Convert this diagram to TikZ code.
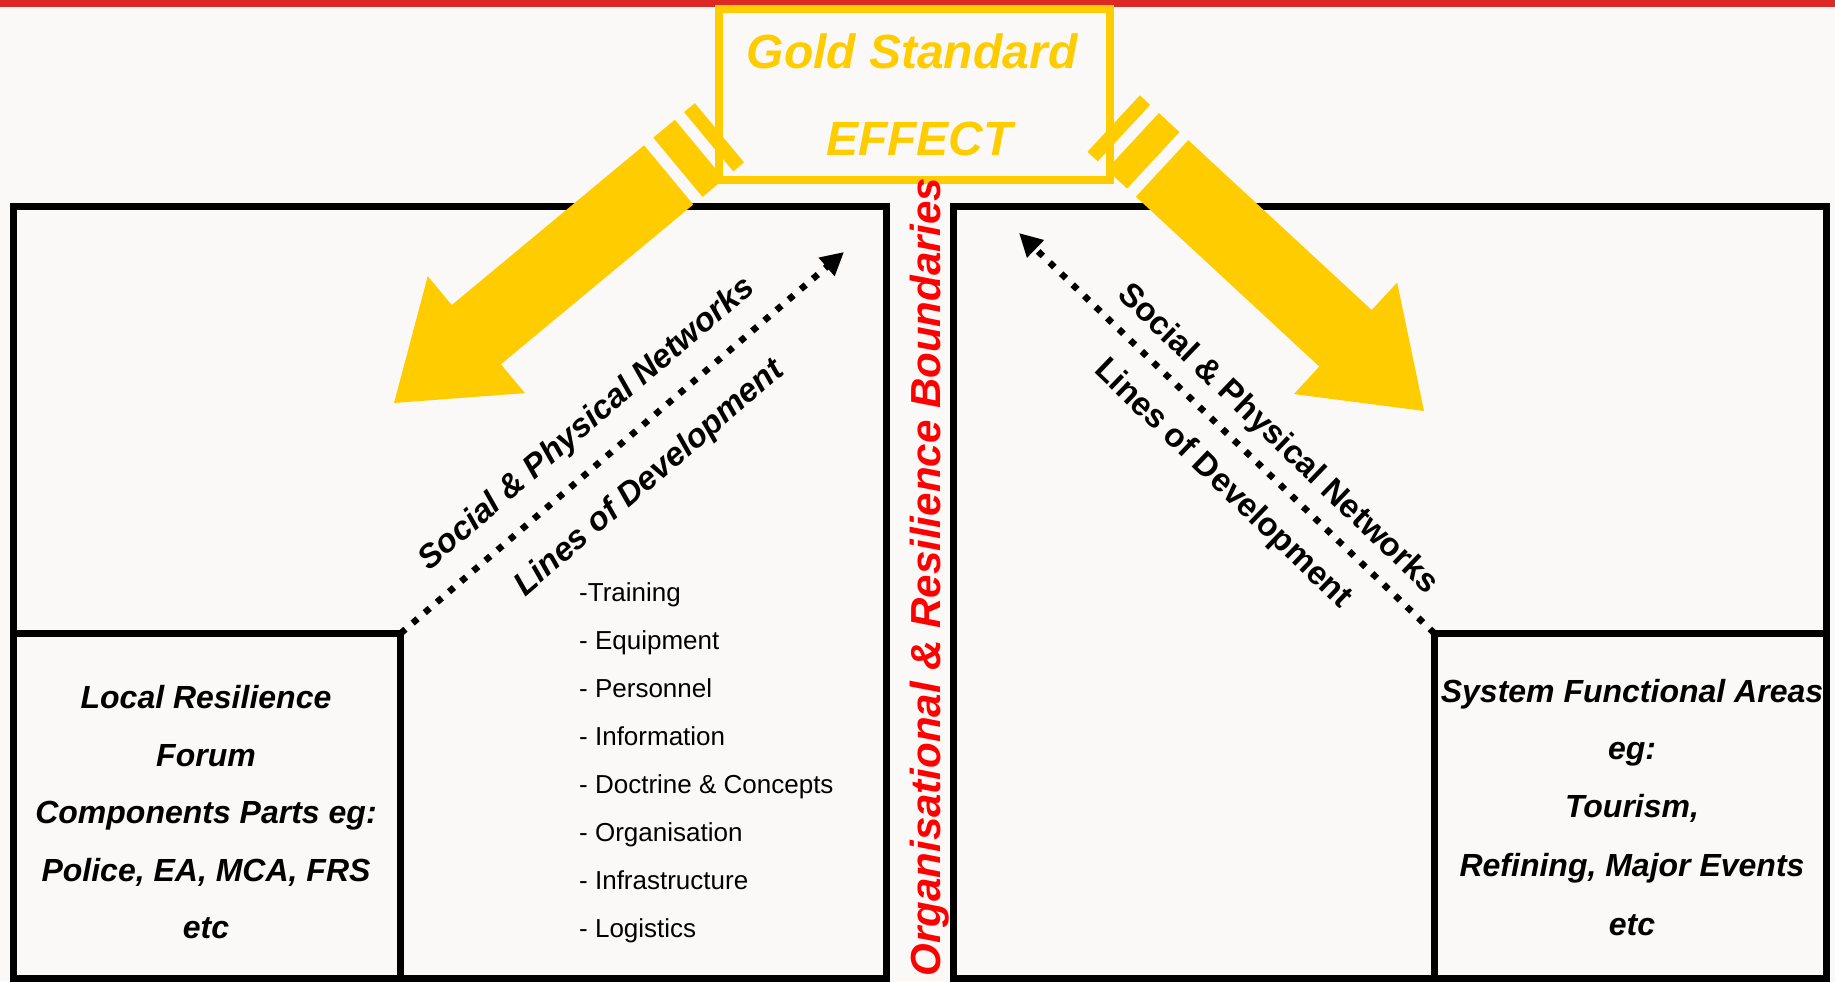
\documentclass[tikz,border=0pt]{standalone}
\usepackage{fontspec}
\setmainfont{Liberation Sans}
\usetikzlibrary{arrows.meta}
\definecolor{bgcol}{RGB}{250,249,247}
\definecolor{gold}{RGB}{255,204,0}
\definecolor{bandred}{RGB}{222,40,36}
\definecolor{txtred}{RGB}{255,0,0}
\begin{document}
\begin{tikzpicture}[x=1pt,y=1pt,
  box/.style={draw=black, line width=7pt, inner sep=0pt, outer sep=0pt},
  goldbox/.style={draw=gold, line width=8pt, inner sep=0pt, outer sep=0pt, minimum width=391pt, minimum height=171pt},
  goldtxt/.style={text=gold, font=\fontsize{48}{48}\selectfont\bfseries\itshape, anchor=base, inner sep=0pt},
  boxtxt/.style={font=\fontsize{32}{32}\selectfont\bfseries\itshape, anchor=base, inner sep=0pt},
  listtxt/.style={font=\fontsize{26}{26}\selectfont, anchor=base west, inner sep=0pt},
  diagit/.style={font=\fontsize{33}{33}\selectfont\bfseries\itshape, anchor=base, inner sep=0pt},
  diagup/.style={font=\fontsize{33}{33}\selectfont\bfseries, anchor=base, inner sep=0pt},
  bndtxt/.style={text=txtred, font=\fontsize{42}{42}\selectfont\bfseries\itshape, anchor=base, inner sep=0pt, rotate=90},
  dotarrow/.style={line width=6.5pt, dash pattern=on 6.5pt off 9.5pt, -{Triangle[length=23pt,width=23pt]}},
  bigarrow/.style={fill=gold},
]
\fill[bgcol] (0,0) rectangle (1835,982);
\useasboundingbox (0,0) rectangle (1835,982);
\fill[bandred] (0,975) rectangle (1835,982);

% texts inside the lower boxes
\node[boxtxt] (lrf1) at (206,273) {Local Resilience};
\node[boxtxt] (lrf2) at (206,215) {Forum};
\node[boxtxt] (lrf3) at (206,158) {Components Parts eg:};
\node[boxtxt] (lrf4) at (206,100) {Police, EA, MCA, FRS};
\node[boxtxt] (lrf5) at (206,44) {etc};

\node[boxtxt] (sfa1) at (1632,279) {System Functional Areas};
\node[boxtxt] (sfa2) at (1632,222) {eg:};
\node[boxtxt] (sfa3) at (1632,164) {Tourism,};
\node[boxtxt] (sfa4) at (1632,105) {Refining, Major Events};
\node[boxtxt] (sfa5) at (1632,47) {etc};

% list
\node[listtxt] (li1) at (579,380.5) {-Training};
\node[listtxt] (li2) at (579,332.5) {- Equipment};
\node[listtxt] (li3) at (579,284.5) {- Personnel};
\node[listtxt] (li4) at (579,236.5) {- Information};
\node[listtxt] (li5) at (579,188.5) {- Doctrine \& Concepts};
\node[listtxt] (li6) at (579,140.5) {- Organisation};
\node[listtxt] (li7) at (579,92.5) {- Infrastructure};
\node[listtxt] (li8) at (579,44.5) {- Logistics};

% boxes
\node[box, minimum width=873pt, minimum height=772pt] (lbig) at (450,389.5) {};
\node[box, minimum width=387pt, minimum height=345pt] (lsub) at (207,176) {};
\node[box, minimum width=872.5pt, minimum height=772pt] (rbig) at (1389.75,389.5) {};
\node[box, minimum width=391.5pt, minimum height=345pt] (rsub) at (1630.25,176) {};

% gold box
\node[goldbox] (gold) at (914.5,887.5) {};
\node[goldtxt] (gs) at (912,913) {Gold Standard};
\node[goldtxt] (eff) at (919.5,826) {EFFECT};

% boundary text
\node[bndtxt] (bnd) at (940,405) {Organisational \& Resilience Boundaries};

% big yellow arrows
\begin{scope}[shift={(394,579)},rotate=219.7]
  \fill[bigarrow] (0,0) -- (-107,76) -- (-107,38.5) -- (-357,38.5) -- (-357,-38.5) -- (-107,-38.5) -- (-107,-76) -- cycle;
  \fill[bigarrow] (-369,-38.5) rectangle (-397,38.5);
  \fill[bigarrow] (-409,-38.5) rectangle (-423,38.5);
\end{scope}
\begin{scope}[shift={(1424,571)},rotate=-42.8]
  \fill[bigarrow] (0,0) -- (-107,76) -- (-107,38.5) -- (-357,38.5) -- (-357,-38.5) -- (-107,-38.5) -- (-107,-76) -- cycle;
  \fill[bigarrow] (-369,-38.5) rectangle (-397,38.5);
  \fill[bigarrow] (-409,-38.5) rectangle (-423,38.5);
\end{scope}

% dotted arrows
\coordinate (ltip) at (844,730);
\coordinate (rtip) at (1019,749);
\draw[dotarrow] (lsub.north east) -- (ltip);
\draw[dotarrow] (rsub.north west) -- (rtip);

% diagonal labels
\node[diagit, rotate=40.7] (lsoc) at (592.6,551.4) {Social \& Physical Networks};
\node[diagit, rotate=40.7] (llod) at (655.5,496.7) {Lines of Development};
\node[diagup, rotate=-43.9] (rsoc) at (1271.5,536.2) {Social \& Physical Networks};
\node[diagup, rotate=-43.9] (rlod) at (1216.7,491.4) {Lines of Development};
\end{tikzpicture}
\end{document}
